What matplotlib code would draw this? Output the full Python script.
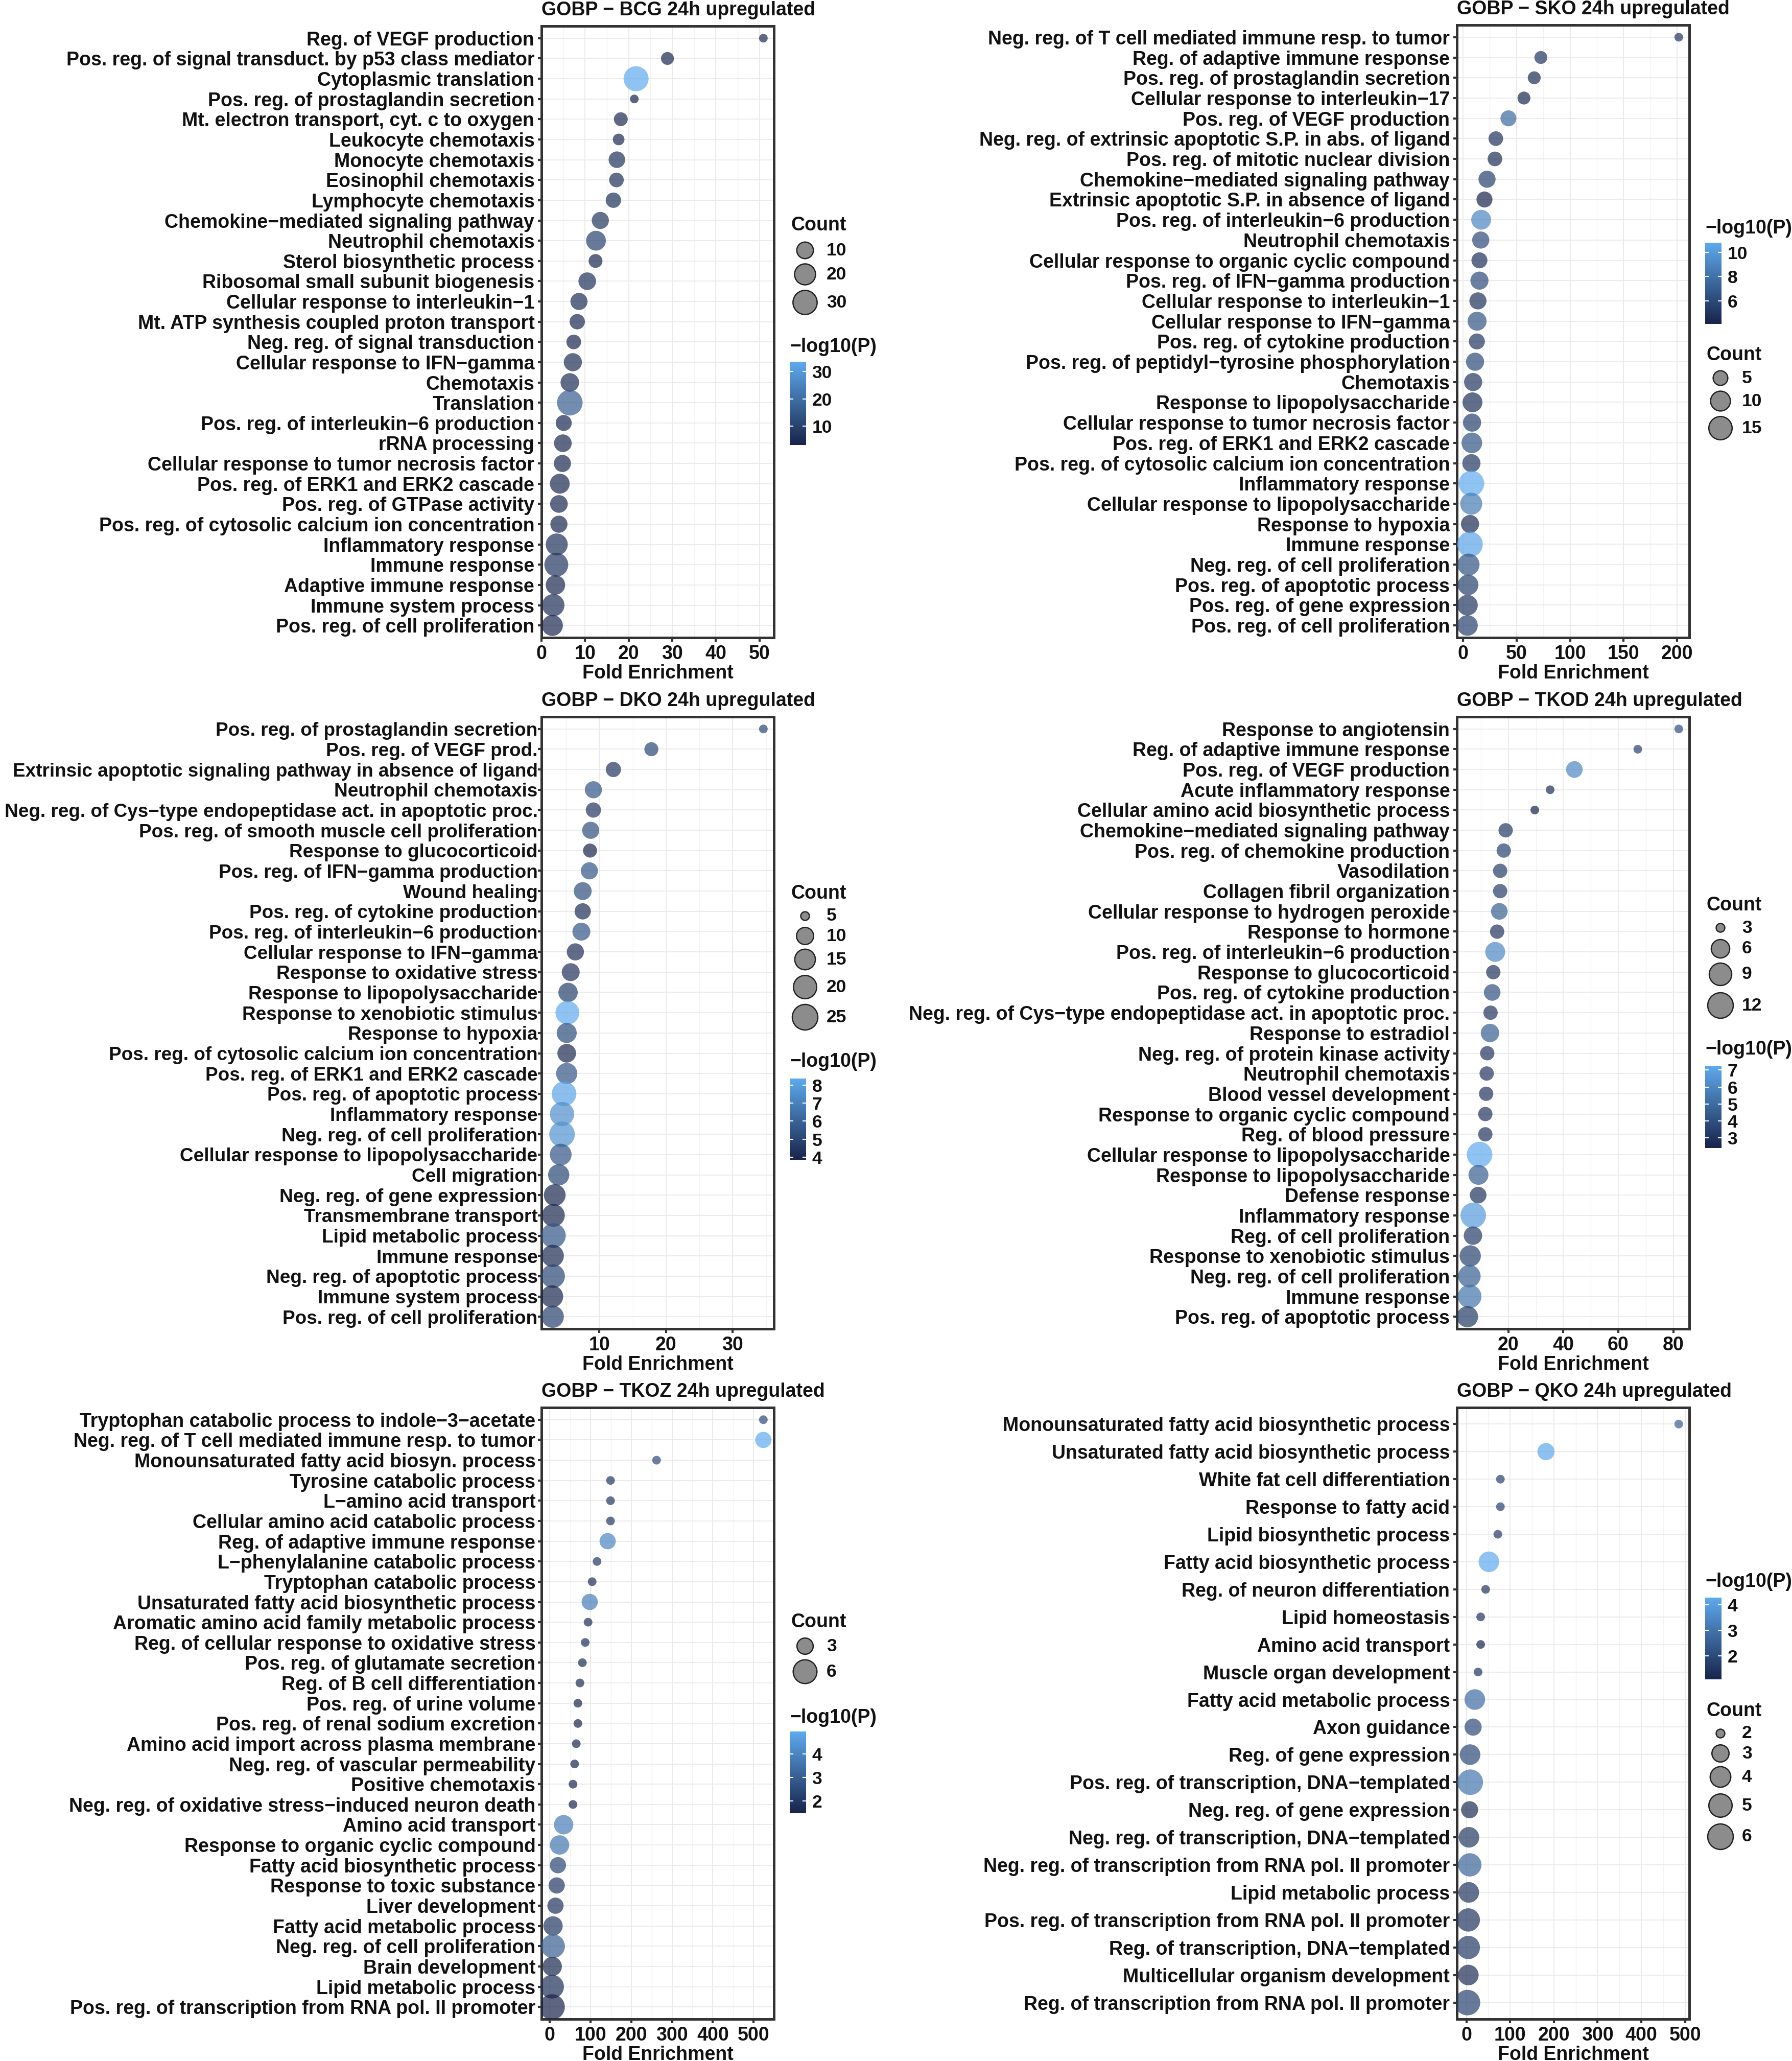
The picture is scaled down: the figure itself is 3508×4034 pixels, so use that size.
import numpy as np
import matplotlib
matplotlib.use("Agg")
import matplotlib.pyplot as plt
from matplotlib.colors import LinearSegmentedColormap, Normalize
from matplotlib.ticker import MultipleLocator

plt.rcParams['font.family'] = ['Liberation Sans', 'DejaVu Sans']
plt.rcParams['font.weight'] = 'bold'

W, H, DPI = 3508, 4034, 300
PX = DPI / 72.0

# ---------------- data ----------------
bcg_terms = ["Reg. of VEGF production",
             "Pos. reg. of signal transduct. by p53 class mediator",
             "Cytoplasmic translation",
             "Pos. reg. of prostaglandin secretion",
             "Mt. electron transport, cyt. c to oxygen",
             "Leukocyte chemotaxis", "Monocyte chemotaxis", "Eosinophil chemotaxis",
             "Lymphocyte chemotaxis", "Chemokine\u2212mediated signaling pathway",
             "Neutrophil chemotaxis", "Sterol biosynthetic process",
             "Ribosomal small subunit biogenesis", "Cellular response to interleukin\u22121",
             "Mt. ATP synthesis coupled proton transport", "Neg. reg. of signal transduction",
             "Cellular response to IFN\u2212gamma", "Chemotaxis", "Translation",
             "Pos. reg. of interleukin\u22126 production", "rRNA processing",
             "Cellular response to tumor necrosis factor", "Pos. reg. of ERK1 and ERK2 cascade",
             "Pos. reg. of GTPase activity", "Pos. reg. of cytosolic calcium ion concentration",
             "Inflammatory response", "Immune response", "Adaptive immune response",
             "Immune system process", "Pos. reg. of cell proliferation"]
bcg_fe = [50.9, 28.9, 21.7, 21.3, 18.2, 17.7, 17.3, 17.2, 16.5, 13.5, 12.5, 12.4, 10.5, 8.6, 8.2,
          7.4, 7.2, 6.5, 6.5, 5.1, 4.9, 4.8, 4.2, 4.0, 4.0, 3.5, 3.4, 3.2, 2.7, 2.5]
bcg_count = [3, 5, 33, 3, 6, 4, 10, 7, 8, 11, 17, 6, 12, 11, 8, 7, 13, 14, 35, 9, 12, 11, 17, 12,
             11, 23, 29, 16, 24, 20]
bcg_logp = [5, 4, 33.5, 3.2, 4.5, 4.5, 6.5, 6, 6, 7.5, 10, 4, 6.5, 5.5, 4.5, 4, 5.5, 5.5, 16, 4,
            4.5, 4.5, 4.5, 4.5, 4, 6.5, 7.5, 4.5, 5.5, 4]

sko_terms = ["Neg. reg. of T cell mediated immune resp. to tumor",
             "Reg. of adaptive immune response", "Pos. reg. of prostaglandin secretion",
             "Cellular response to interleukin\u221217", "Pos. reg. of VEGF production",
             "Neg. reg. of extrinsic apoptotic S.P. in abs. of ligand",
             "Pos. reg. of mitotic nuclear division", "Chemokine\u2212mediated signaling pathway",
             "Extrinsic apoptotic S.P. in absence of ligand",
             "Pos. reg. of interleukin\u22126 production", "Neutrophil chemotaxis",
             "Cellular response to organic cyclic compound", "Pos. reg. of IFN\u2212gamma production",
             "Cellular response to interleukin\u22121", "Cellular response to IFN\u2212gamma",
             "Pos. reg. of cytokine production", "Pos. reg. of peptidyl\u2212tyrosine phosphorylation",
             "Chemotaxis", "Response to lipopolysaccharide",
             "Cellular response to tumor necrosis factor", "Pos. reg. of ERK1 and ERK2 cascade",
             "Pos. reg. of cytosolic calcium ion concentration", "Inflammatory response",
             "Cellular response to lipopolysaccharide", "Response to hypoxia", "Immune response",
             "Neg. reg. of cell proliferation", "Pos. reg. of apoptotic process",
             "Pos. reg. of gene expression", "Pos. reg. of cell proliferation"]
sko_fe = [201.6, 72.7, 66.5, 56.9, 42.4, 30.6, 29.8, 22.4, 20.0, 16.9, 16.5, 15.3, 15.3, 13.9,
          13.1, 12.9, 11.2, 9.4, 8.8, 8.4, 8.2, 7.8, 7.8, 7.6, 6.5, 6.5, 5.1, 4.7, 4.1, 4.1]
sko_count = [3, 4, 4, 4, 6, 5, 5, 7, 6, 10, 7, 6, 8, 7, 9, 6, 8, 8, 10, 8, 11, 8, 19, 13, 8, 19,
             13, 11, 11, 11]
sko_logp = [5, 5, 4.5, 4.3, 7.5, 4.8, 4.6, 5.5, 4.1, 9, 6, 4.8, 6, 4.8, 6.5, 5, 6, 5, 4.7, 5.5,
            6.5, 5, 10.8, 8.5, 4.5, 10.5, 6.5, 5.5, 5, 5.5]

dko_terms = ["Pos. reg. of prostaglandin secretion", "Pos. reg. of VEGF prod.",
             "Extrinsic apoptotic signaling pathway in absence of ligand", "Neutrophil chemotaxis",
             "Neg. reg. of Cys\u2212type endopeptidase act. in apoptotic proc.",
             "Pos. reg. of smooth muscle cell proliferation", "Response to glucocorticoid",
             "Pos. reg. of IFN\u2212gamma production", "Wound healing",
             "Pos. reg. of cytokine production", "Pos. reg. of interleukin\u22126 production",
             "Cellular response to IFN\u2212gamma", "Response to oxidative stress",
             "Response to lipopolysaccharide", "Response to xenobiotic stimulus",
             "Response to hypoxia", "Pos. reg. of cytosolic calcium ion concentration",
             "Pos. reg. of ERK1 and ERK2 cascade", "Pos. reg. of apoptotic process",
             "Inflammatory response", "Neg. reg. of cell proliferation",
             "Cellular response to lipopolysaccharide", "Cell migration",
             "Neg. reg. of gene expression", "Transmembrane transport", "Lipid metabolic process",
             "Immune response", "Neg. reg. of apoptotic process", "Immune system process",
             "Pos. reg. of cell proliferation"]
dko_fe = [34.6, 17.8, 12.1, 9.1, 9.1, 8.7, 8.6, 8.5, 7.5, 7.5, 7.3, 6.4, 5.7, 5.3, 5.2, 5.1, 5.1,
          5.1, 4.7, 4.4, 4.4, 4.2, 3.9, 3.3, 3.1, 3.1, 3.0, 3.05, 2.9, 3.0]
dko_count = [5, 7, 8, 10, 8, 10, 7, 10, 11, 9, 11, 10, 11, 13, 21, 14, 12, 16, 23, 22, 25, 17,
             16, 17, 19, 23, 18, 21, 18, 18]
dko_logp = [5, 5, 4.5, 5.5, 4.5, 5.3, 3.86, 5.5, 5.3, 4.2, 5.5, 4.2, 4.3, 4.8, 8.36, 5.2, 4.1, 5.5,
            8.2, 7.4, 7.6, 5.5, 5.0, 4.0, 4.0, 5.5, 4.1, 5.0, 4.0, 4.8]

tkod_terms = ["Response to angiotensin", "Reg. of adaptive immune response",
              "Pos. reg. of VEGF production", "Acute inflammatory response",
              "Cellular amino acid biosynthetic process", "Chemokine\u2212mediated signaling pathway",
              "Pos. reg. of chemokine production", "Vasodilation", "Collagen fibril organization",
              "Cellular response to hydrogen peroxide", "Response to hormone",
              "Pos. reg. of interleukin\u22126 production", "Response to glucocorticoid",
              "Pos. reg. of cytokine production",
              "Neg. reg. of Cys\u2212type endopeptidase act. in apoptotic proc.",
              "Response to estradiol", "Neg. reg. of protein kinase activity",
              "Neutrophil chemotaxis", "Blood vessel development",
              "Response to organic cyclic compound", "Reg. of blood pressure",
              "Cellular response to lipopolysaccharide", "Response to lipopolysaccharide",
              "Defense response", "Inflammatory response", "Reg. of cell proliferation",
              "Response to xenobiotic stimulus", "Neg. reg. of cell proliferation",
              "Immune response", "Pos. reg. of apoptotic process"]
tkod_fe = [82.0, 67.1, 44.0, 35.2, 29.6, 19.0, 18.3, 17.0, 17.0, 16.7, 15.9, 15.2, 14.5, 14.1,
           13.5, 13.3, 12.3, 12.1, 11.9, 11.6, 11.6, 9.5, 9.1, 9.0, 7.2, 7.1, 6.1, 5.8, 5.9, 5.1]
tkod_count = [3, 3, 5, 3, 3, 4, 4, 4, 4, 5, 4, 7, 4, 5, 4, 6, 4, 4, 4, 4, 4, 12, 7, 5, 12, 6, 8,
              9, 10, 8]
tkod_logp = [4, 3.5, 6, 2.8, 2.41, 3.2, 3.5, 3.3, 3.3, 4.5, 3, 6, 3, 4, 3, 4.5, 3, 3, 3, 3, 3,
             7.25, 4.5, 3, 6.7, 3.3, 3.5, 4.5, 5.3, 3.2]

tkoz_terms = ["Tryptophan catabolic process to indole\u22123\u2212acetate",
              "Neg. reg. of T cell mediated immune resp. to tumor",
              "Monounsaturated fatty acid biosyn. process", "Tyrosine catabolic process",
              "L\u2212amino acid transport", "Cellular amino acid catabolic process",
              "Reg. of adaptive immune response", "L\u2212phenylalanine catabolic process",
              "Tryptophan catabolic process", "Unsaturated fatty acid biosynthetic process",
              "Aromatic amino acid family metabolic process",
              "Reg. of cellular response to oxidative stress", "Pos. reg. of glutamate secretion",
              "Reg. of B cell differentiation", "Pos. reg. of urine volume",
              "Pos. reg. of renal sodium excretion", "Amino acid import across plasma membrane",
              "Neg. reg. of vascular permeability", "Positive chemotaxis",
              "Neg. reg. of oxidative stress\u2212induced neuron death", "Amino acid transport",
              "Response to organic cyclic compound", "Fatty acid biosynthetic process",
              "Response to toxic substance", "Liver development", "Fatty acid metabolic process",
              "Neg. reg. of cell proliferation", "Brain development", "Lipid metabolic process",
              "Pos. reg. of transcription from RNA pol. II promoter"]
tkoz_fe = [524, 524, 262, 149, 149, 149, 142, 116, 104, 98, 94, 87, 80, 74, 69, 69, 65, 61, 57,
           57, 34, 24, 20, 17, 14, 8, 8, 6, 5.6, 5.6]
tkoz_count = [2, 3, 2, 2, 2, 2, 3, 2, 2, 3, 2, 2, 2, 2, 2, 2, 2, 2, 2, 2, 4, 4, 3, 3, 3, 4, 6, 4,
              6, 7]
tkoz_logp = [2.5, 4.96, 2.5, 2.0, 2.0, 2.0, 4.0, 2.0, 1.8, 3.8, 1.8, 1.8, 1.7, 1.7, 1.6, 1.6, 1.6,
             1.6, 1.6, 1.6, 3.8, 3.6, 2.3, 2.0, 1.9, 2.0, 3.0, 1.6, 1.8, 1.48]

qko_terms = ["Monounsaturated fatty acid biosynthetic process",
             "Unsaturated fatty acid biosynthetic process", "White fat cell differentiation",
             "Response to fatty acid", "Lipid biosynthetic process",
             "Fatty acid biosynthetic process", "Reg. of neuron differentiation",
             "Lipid homeostasis", "Amino acid transport", "Muscle organ development",
             "Fatty acid metabolic process", "Axon guidance", "Reg. of gene expression",
             "Pos. reg. of transcription, DNA\u2212templated", "Neg. reg. of gene expression",
             "Neg. reg. of transcription, DNA\u2212templated",
             "Neg. reg. of transcription from RNA pol. II promoter", "Lipid metabolic process",
             "Pos. reg. of transcription from RNA pol. II promoter",
             "Reg. of transcription, DNA\u2212templated", "Multicellular organism development",
             "Reg. of transcription from RNA pol. II promoter"]
qko_fe = [485.6, 182, 77.8, 77.8, 71.9, 51.5, 44, 32.7, 32.7, 26.8, 19.3, 15.4, 8.4, 8.9, 7.4,
          5.9, 7.9, 5.5, 4.5, 4.5, 4.5, 2.5]
qko_count = [2, 3, 2, 2, 2, 4, 2, 2, 2, 2, 4, 3, 4, 6, 3, 4, 5, 4, 5, 5, 4, 6]
qko_logp = [2.5, 4.2, 1.8, 1.8, 1.6, 4.27, 1.5, 1.5, 1.08, 1.5, 2.8, 2.0, 2.0, 3.0, 1.3, 1.6, 2.6,
            1.5, 1.5, 1.6, 1.3, 1.8]

# ---------------- layout ----------------
# box = (left, top, right, bottom) in output pixels
panels = [
    dict(title="GOBP \u2212 BCG 24h upregulated", terms=bcg_terms, fe=bcg_fe, count=bcg_count,
         logp=bcg_logp, box=(1060, 51, 1515, 1248), xstep=10, xticks=[0, 10, 20, 30, 40, 50],
         cbreaks=[10, 20, 30], pticks=[10, 20, 30], ysize=9, ypad=1.5,
         count_y=441, key_y=[490, 537, 592], p_y=679, bar=(708, 871)),
    dict(title="GOBP \u2212 SKO 24h upregulated", terms=sko_terms, fe=sko_fe, count=sko_count,
         logp=sko_logp, box=(2852, 49, 3307, 1248), xstep=50, xticks=[0, 50, 100, 150, 200],
         cbreaks=[5, 10, 15], pticks=[6, 8, 10], ysize=9, ypad=1.5,
         count_y=695, key_y=[740, 785, 838], p_y=447, bar=(475, 634)),
    dict(title="GOBP \u2212 DKO 24h upregulated", terms=dko_terms, fe=dko_fe, count=dko_count,
         logp=dko_logp, box=(1060, 1403, 1515, 2601), xstep=10, xticks=[10, 20, 30],
         cbreaks=[5, 10, 15, 20, 25], pticks=[4, 5, 6, 7, 8], ysize=8.85, ypad=0.0,
         count_y=1749, key_y=[1793, 1832, 1878, 1932, 1991], p_y=2078, bar=(2111, 2270)),
    dict(title="GOBP \u2212 TKOD 24h upregulated", terms=tkod_terms, fe=tkod_fe, count=tkod_count,
         logp=tkod_logp, box=(2852, 1403, 3307, 2601), xstep=20, xticks=[20, 40, 60, 80],
         cbreaks=[3, 6, 9, 12], pticks=[3, 4, 5, 6, 7], ysize=9, ypad=1.5,
         count_y=1772, key_y=[1816, 1857, 1907, 1968], p_y=2054, bar=(2086, 2247)),
    dict(title="GOBP \u2212 TKOZ 24h upregulated", terms=tkoz_terms, fe=tkoz_fe, count=tkoz_count,
         logp=tkoz_logp, box=(1060, 2755, 1515, 3952), xstep=100,
         xticks=[0, 100, 200, 300, 400, 500], cbreaks=[3, 6], pticks=[2, 3, 4], ysize=9, ypad=1.0,
         count_y=3175, key_y=[3222, 3272], p_y=3362, bar=(3389, 3549)),
    dict(title="GOBP \u2212 QKO 24h upregulated", terms=qko_terms, fe=qko_fe, count=qko_count,
         logp=qko_logp, box=(2852, 2755, 3307, 3952), xstep=100,
         xticks=[0, 100, 200, 300, 400, 500], cbreaks=[2, 3, 4, 5, 6], pticks=[2, 3, 4],
         ysize=9, ypad=1.5,
         count_y=3349, key_y=[3393, 3432, 3478, 3534, 3595], p_y=3096, bar=(3127, 3287)),
]

cmap = LinearSegmentedColormap.from_list("gg", ["#18244a", "#5eaaee"])
D0, D1 = 17.0, 50.0   # dot diameter range, px
TXT = "#111111"


def dot_size(c, cmin, cmax):
    d = D0 + (D1 - D0) * np.sqrt((np.asarray(c, float) - cmin) / (cmax - cmin))
    return (d / PX) ** 2


def rect(x0, y0, x1, y1):
    return [x0 / W, 1 - y1 / H, (x1 - x0) / W, (y1 - y0) / H]


fig = plt.figure(figsize=(W / DPI, H / DPI), dpi=DPI)
ov = fig.add_axes([0, 0, 1, 1])
ov.set_xlim(0, W)
ov.set_ylim(H, 0)
ov.axis("off")

for p in panels:
    x0, y0, x1, y1 = p["box"]
    ax = fig.add_axes(rect(x0, y0, x1, y1))
    n = len(p["terms"])
    cmin, cmax = min(p["count"]), max(p["count"])
    pmin, pmax = min(p["logp"]), max(p["logp"])
    norm = Normalize(pmin, pmax)
    ax.scatter(p["fe"], p["terms"], s=dot_size(p["count"], cmin, cmax), c=p["logp"],
               cmap=cmap, norm=norm, alpha=0.7, linewidths=0, zorder=3)
    ax.set_ylim(n - 0.4, -0.6)
    lo, hi = min(p["fe"]), max(p["fe"])
    r = hi - lo
    ax.set_xlim(lo - 0.05 * r, hi + 0.05 * r)
    ax.set_xticks(p["xticks"])
    ax.xaxis.set_minor_locator(MultipleLocator(p["xstep"] / 2))
    ax.set_axisbelow(True)
    ax.grid(True, which="major", color="#ebebeb", lw=0.5)
    ax.grid(True, which="minor", axis="x", color="#f3f3f3", lw=0.35)
    for s in ax.spines.values():
        s.set_color("#333333")
        s.set_linewidth(1.2)
    ax.tick_params(which="major", length=1.8, width=1.0, color="#333333",
                   labelcolor=TXT)
    ax.tick_params(axis="x", labelsize=9, pad=1.5)
    ax.tick_params(axis="y", labelsize=p["ysize"], pad=p["ypad"])
    ax.tick_params(which="minor", length=0)
    for lab in ax.get_xticklabels() + ax.get_yticklabels():
        lab.set_fontweight("bold")
    ax.set_xlabel("Fold Enrichment", fontsize=9, fontweight="bold", color=TXT, labelpad=0.5)
    ax.set_title(p["title"], loc="left", fontsize=9, fontweight="bold", color=TXT, pad=5)

    # size legend
    ov.text(x1 + 33, p["count_y"], "Count", fontsize=9, fontweight="bold", color=TXT,
            ha="left", va="center")
    ov.scatter([x1 + 61] * len(p["cbreaks"]), p["key_y"],
               s=dot_size(p["cbreaks"], cmin, cmax), facecolor="#8c8c8c",
               edgecolor="#222222", linewidths=0.6)
    for b, ky in zip(p["cbreaks"], p["key_y"]):
        ov.text(x1 + 103, ky, str(b), fontsize=8.5, fontweight="bold", color=TXT,
                ha="left", va="center")

    # colour bar
    ov.text(x1 + 31, p["p_y"], "\u2212log10(P)", fontsize=9, fontweight="bold", color=TXT,
            ha="left", va="center")
    bt, bb = p["bar"]
    cax = fig.add_axes(rect(x1 + 31, bt, x1 + 63, bb))
    cax.imshow(np.linspace(0, 1, 256)[:, None], aspect="auto", cmap=cmap, origin="lower",
               extent=[0, 1, pmin, pmax])
    cax.set_xlim(0, 1)
    cax.set_ylim(pmin, pmax)
    for s in cax.spines.values():
        s.set_visible(False)
    cax.set_xticks([])
    cax.yaxis.tick_right()
    cax.set_yticks(p["pticks"])
    cax.tick_params(axis="y", length=0, pad=2.8, labelsize=8.5, labelcolor=TXT)
    for lab in cax.get_yticklabels():
        lab.set_fontweight("bold")
    for t in p["pticks"]:
        cax.plot([0, 0.2], [t, t], color="white", lw=0.5)
        cax.plot([0.8, 1], [t, t], color="white", lw=0.5)

fig.savefig("out.png", dpi=DPI, facecolor="white")
